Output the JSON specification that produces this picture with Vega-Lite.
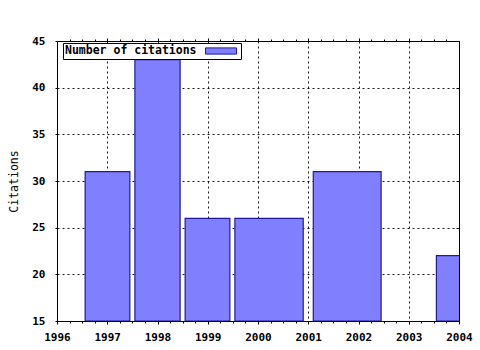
{
  "$schema": "https://vega.github.io/schema/vega-lite/v6.json",
  "autosize": "none",
  "width": 402,
  "height": 280,
  "padding": {"left": 57, "top": 41, "right": 21, "bottom": 29},
  "background": "white",
  "config": {
    "view": {"stroke": "black", "strokeWidth": 1},
    "font": "DejaVu Sans Mono",
    "axis": {
      "labelFont": "DejaVu Sans Mono",
      "labelFontWeight": "bold",
      "labelFontSize": 11,
      "labelColor": "black",
      "tickColor": "black",
      "domain": false,
      "titleFont": "DejaVu Sans Mono",
      "titleFontWeight": "normal",
      "titleFontSize": 11.5,
      "titleColor": "black"
    }
  },
  "data": {
    "values": [
      {"start": 1996.56, "end": 1997.45, "citations": 31},
      {"start": 1997.55, "end": 1998.45, "citations": 43},
      {"start": 1998.55, "end": 1999.44, "citations": 26},
      {"start": 1999.54, "end": 2000.9, "citations": 26},
      {"start": 2001.1, "end": 2002.45, "citations": 31},
      {"start": 2003.55, "end": 2004.45, "citations": 22}
    ]
  },
  "resolve": {"axis": {"x": "independent", "y": "independent"}},
  "layer": [
    {
      "mark": {"type": "rect", "clip": true, "stroke": "#1c1c9c", "strokeWidth": 1.2},
      "encoding": {
        "x": {
          "field": "start", "type": "quantitative",
          "scale": {"domain": [1996, 2004], "nice": false, "zero": false},
          "axis": {
            "orient": "bottom", "values": [1996, 1997, 1998, 1999, 2000, 2001, 2002, 2003, 2004],
            "format": "d", "title": null, "grid": true, "gridColor": "black", "gridDash": [2, 3],
            "gridOpacity": 0.9, "tickSize": 3, "labelPadding": 7, "labelFlush": false
          }
        },
        "x2": {"field": "end"},
        "y": {
          "field": "citations", "type": "quantitative",
          "scale": {"domain": [15, 45], "nice": false, "zero": false},
          "axis": {
            "orient": "left", "values": [15, 20, 25, 30, 35, 40, 45],
            "title": "Citations", "grid": true, "gridColor": "black", "gridDash": [2, 3],
            "gridOpacity": 0.9, "tickSize": 2, "labelPadding": 10, "titlePadding": 12
          }
        },
        "y2": {"datum": 15},
        "color": {
          "datum": "Number of citations",
          "scale": {"range": ["#8080ff"]},
          "legend": {
            "orient": "none", "legendX": 6, "legendY": 2,
            "title": "Number of citations", "titleOrient": "left",
            "titleFont": "DejaVu Sans Mono", "titleFontWeight": "bold", "titleFontSize": 11.5,
            "titleColor": "black", "titlePadding": 18, "titleBaseline": "middle",
            "labelExpr": "''", "labelOffset": 0,
            "symbolType": "M-3,-0.6H3V0.6H-3Z", "symbolSize": 107,
            "symbolStrokeColor": "#1c1c9c", "symbolStrokeWidth": 1, "symbolOpacity": 1,
            "strokeColor": "black", "fillColor": "white", "padding": 2, "cornerRadius": 0
          }
        }
      }
    },
    {
      "mark": {"type": "rect", "opacity": 0},
      "encoding": {
        "x": {
          "field": "start", "type": "quantitative",
          "scale": {"domain": [1996, 2004], "nice": false, "zero": false},
          "axis": {
            "orient": "bottom", "values": [1996.25, 1996.5, 1996.75, 1997.25, 1997.5, 1997.75, 1998.25, 1998.5, 1998.75, 1999.25, 1999.5, 1999.75, 2000.25, 2000.5, 2000.75, 2001.25, 2001.5, 2001.75, 2002.25, 2002.5, 2002.75, 2003.25, 2003.5, 2003.75],
            "labels": false, "title": null, "grid": false, "tickSize": 2
          }
        },
        "y": {
          "field": "citations", "type": "quantitative",
          "scale": {"domain": [15, 45], "nice": false, "zero": false},
          "axis": {"orient": "right", "values": [20, 25, 30, 35, 40], "labels": false, "title": null, "grid": false, "tickSize": -3}
        }
      }
    },
    {
      "mark": {"type": "rect", "opacity": 0},
      "encoding": {
        "x": {
          "field": "start", "type": "quantitative",
          "scale": {"domain": [1996, 2004], "nice": false, "zero": false},
          "axis": {
            "orient": "top", "values": [1997, 1998, 1999, 2000, 2001, 2002, 2003],
            "labels": false, "title": null, "grid": false, "tickSize": 3
          }
        }
      }
    },
    {
      "mark": {"type": "rect", "opacity": 0},
      "encoding": {
        "x": {
          "field": "start", "type": "quantitative",
          "scale": {"domain": [1996, 2004], "nice": false, "zero": false},
          "axis": {
            "orient": "top", "values": [1996.25, 1996.5, 1996.75, 1997.25, 1997.5, 1997.75, 1998.25, 1998.5, 1998.75, 1999.25, 1999.5, 1999.75, 2000.25, 2000.5, 2000.75, 2001.25, 2001.5, 2001.75, 2002.25, 2002.5, 2002.75, 2003.25, 2003.5, 2003.75],
            "labels": false, "title": null, "grid": false, "tickSize": 2
          }
        }
      }
    }
  ]
}
